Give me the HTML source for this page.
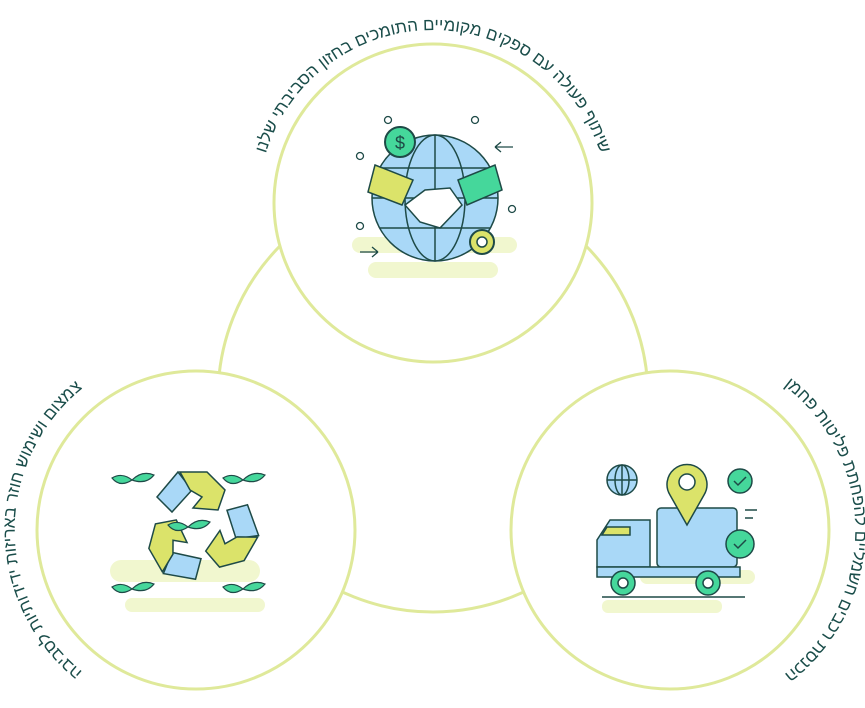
<!DOCTYPE html>
<html><head><meta charset="utf-8"><style>html,body{margin:0;padding:0;background:#fff}svg{display:block}</style></head>
<body>
<svg width="865" height="708" viewBox="0 0 865 708" xmlns="http://www.w3.org/2000/svg">
<defs>
<path id="pt" d="M 258,205 A 175 175 0 0 1 608,205"/>
<path id="pl" d="M 110,690 A 182 182 0 0 1 110,370"/>
<path id="pr" d="M 760,370 A 182 182 0 0 1 760,690"/>
</defs>
<g fill="none" stroke="#dfe99a" stroke-width="3">
<circle cx="433" cy="397" r="215"/>
</g>
<g fill="#fff" stroke="#dfe99a" stroke-width="3">
<circle cx="433" cy="203" r="159"/>
<circle cx="196" cy="530" r="159"/>
<circle cx="670" cy="530" r="159"/>
</g>
<g font-family="'Liberation Sans','Noto Sans CJK SC',sans-serif" font-size="17" fill="#1a4d4a" text-anchor="middle">
<text><textPath href="#pt" startOffset="50%">שיתוף פעולה עם ספקים מקומיים התומכים בחזון הסביבתי שלנו</textPath></text>
<text><textPath href="#pl" startOffset="50%">צמצום ושימוש חוזר באריזות ידידותיות לסביבה</textPath></text>
<text><textPath href="#pr" startOffset="50%">הכנסת רכבים חשמליים להפחתת פליטות פחמן</textPath></text>
</g>
<!-- top icon -->
<g stroke="#1e4a47" stroke-width="1.5">
<rect x="352" y="237" width="165" height="16" rx="8" fill="#f1f7cf" stroke="none"/>
<rect x="368" y="262" width="130" height="16" rx="8" fill="#f1f7cf" stroke="none"/>
<circle cx="435" cy="198" r="63" fill="#a9d8f7"/>
<ellipse cx="435" cy="198" rx="30" ry="63" fill="none"/>
<line x1="435" y1="135" x2="435" y2="261"/>
<line x1="372" y1="198" x2="498" y2="198"/>
<line x1="380" y1="168" x2="490" y2="168"/>
<line x1="380" y1="228" x2="490" y2="228"/>
<polygon points="375,165 413,180 402,205 368,192" fill="#dbe36a"/>
<polygon points="458,180 495,165 502,190 467,205" fill="#45d79b"/>
<path d="M405,205 L425,190 L450,188 L462,205 L440,228 L420,222 Z" fill="#fff"/>
<circle cx="400" cy="142" r="15" fill="#45d79b" stroke-width="2"/>
<circle cx="482" cy="242" r="12" fill="#dbe36a" stroke-width="2"/>
<circle cx="482" cy="242" r="5" fill="#fff"/>
</g>
<text x="400" y="149" font-family="'Liberation Sans',sans-serif" font-size="18" text-anchor="middle" fill="#1e4a47">$</text>
<g fill="none" stroke="#1e4a47" stroke-width="1.3">
<circle cx="388" cy="120" r="3.5"/><circle cx="475" cy="120" r="3.5"/><circle cx="360" cy="156" r="3.5"/><circle cx="512" cy="209" r="3.5"/><circle cx="360" cy="226" r="3.5"/>
<path d="M495,147 h18 M495,147 l6,-5 M495,147 l6,5"/>
<path d="M360,252 h18 M378,252 l-6,-5 M378,252 l-6,5"/>
</g>
<!-- left icon -->
<g stroke="#1e4a47" stroke-width="1.5">
<rect x="110" y="560" width="150" height="22" rx="11" fill="#f1f7cf" stroke="none"/>
<rect x="125" y="598" width="140" height="14" rx="7" fill="#f1f7cf" stroke="none"/>
<g id="ar">
<polygon points="157,497 178,472 192,490 172,512" fill="#a9d8f7"/>
<polygon points="180,472 207,472 225,490 218,510 193,508 202,497 190,490" fill="#dbe36a"/>
</g>
<use href="#ar" transform="rotate(120 200 527)"/>
<use href="#ar" transform="rotate(240 200 527)"/>
</g>
<g fill="#45d79b" stroke="#1e4a47" stroke-width="1.2">
<path d="M132,480 q-10,-8 -20,-2 q8,10 20,2 z M132,480 q10,-10 22,-5 q-8,10 -22,5 z"/>
<path d="M243,480 q-10,-8 -20,-2 q8,10 20,2 z M243,480 q10,-10 22,-5 q-8,10 -22,5 z"/>
<path d="M188,527 q-10,-8 -20,-2 q8,10 20,2 z M188,527 q10,-10 22,-5 q-8,10 -22,5 z"/>
<path d="M132,589 q-10,-8 -20,-2 q8,10 20,2 z M132,589 q10,-10 22,-5 q-8,10 -22,5 z"/>
<path d="M243,589 q-10,-8 -20,-2 q8,10 20,2 z M243,589 q10,-10 22,-5 q-8,10 -22,5 z"/>
</g>
<!-- right icon -->
<g stroke="#1e4a47" stroke-width="1.5">
<rect x="640" y="570" width="115" height="14" rx="7" fill="#f1f7cf" stroke="none"/>
<rect x="602" y="600" width="120" height="13" rx="6" fill="#f1f7cf" stroke="none"/>
<rect x="657" y="508" width="80" height="59" rx="4" fill="#a9d8f7"/>
<path d="M597,567 V540 L610,520 H650 V567 Z" fill="#a9d8f7"/>
<path d="M607,527 H630 V535 H602 Z" fill="#dbe36a"/>
<rect x="597" y="567" width="143" height="10" fill="#a9d8f7"/>
<line x1="602" y1="597" x2="745" y2="597"/>
<circle cx="623" cy="583" r="12" fill="#45d79b"/><circle cx="623" cy="583" r="5" fill="#fff"/>
<circle cx="708" cy="583" r="12" fill="#45d79b"/><circle cx="708" cy="583" r="5" fill="#fff"/>
<path d="M687,525 L670,495 A20,20 0 1 1 704,495 Z" fill="#dbe36a"/>
<circle cx="687" cy="482" r="8" fill="#fff"/>
<circle cx="622" cy="480" r="15" fill="#a9d8f7"/>
<ellipse cx="622" cy="480" rx="7" ry="15" fill="none"/>
<line x1="607" y1="480" x2="637" y2="480"/><line x1="622" y1="465" x2="622" y2="495"/>
<circle cx="740" cy="481" r="12" fill="#45d79b"/>
<circle cx="740" cy="544" r="14" fill="#45d79b"/>
<path d="M734,544 l4,4 l8,-8 M734,481 l4,4 l8,-8" fill="none"/>
<path d="M745,510 h12 M745,518 h8" fill="none"/>
</g>
</svg>
</body></html>
